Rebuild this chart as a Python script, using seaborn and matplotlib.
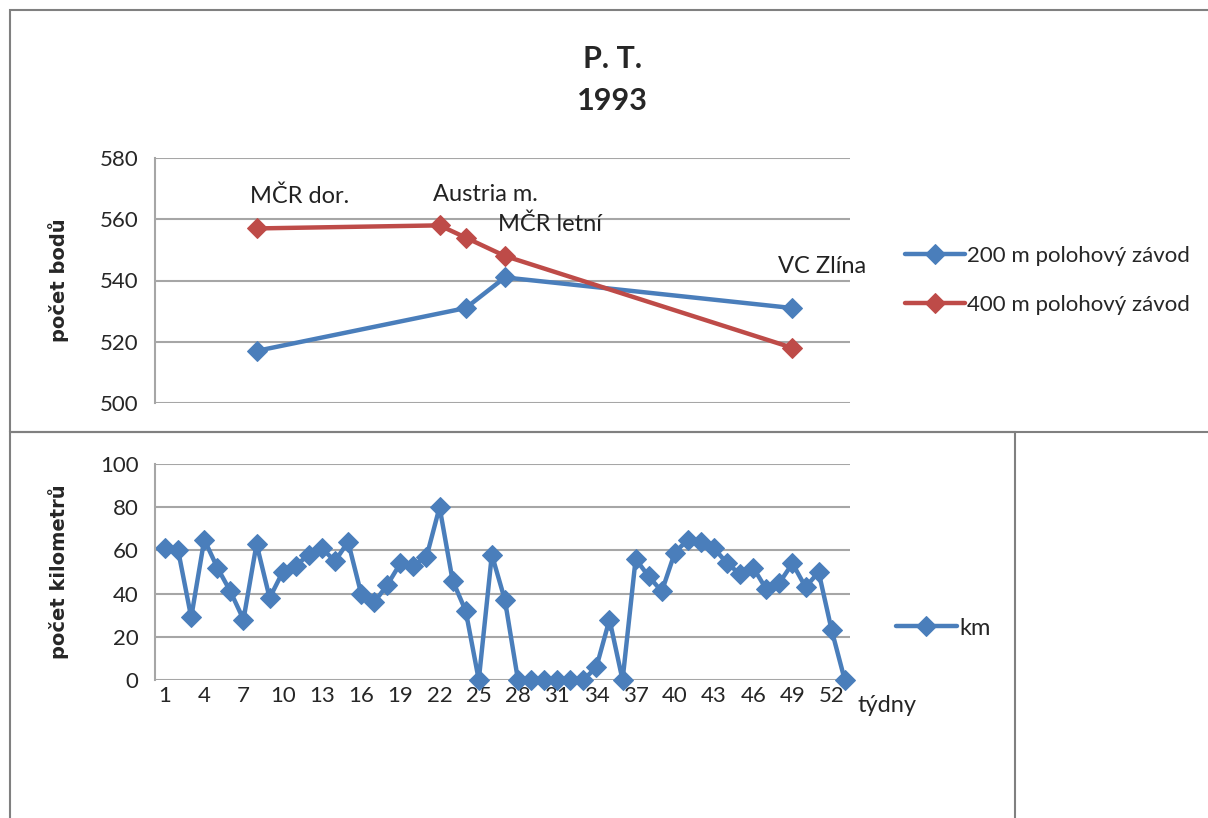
import matplotlib
matplotlib.use("Agg")
import matplotlib.pyplot as plt
from matplotlib.patches import Rectangle
import seaborn as sns
import pandas as pd
import numpy as np

# ---------------- data ----------------
race_weeks_200 = [8, 24, 27, 49]
points_200 = [517, 531, 541, 531]
race_weeks_400 = [8, 22, 24, 27, 49]
points_400 = [557, 558, 554, 548, 518]
race_labels = ["MČR dor.", "Austria m.", "MČR letní", "VC Zlína"]
race_label_weeks = [7.5, 21.5, 26.5, 47.9]
race_label_values = [564, 564.5, 555, 541]

weeks = list(range(1, 54))
km = [61, 60, 29, 65, 52, 41, 28, 63, 38, 50, 53, 58, 61, 55, 64, 40, 36, 44, 54, 53,
      57, 80, 46, 32, 0, 58, 37, 0, 0, 0, 0, 0, 0, 6, 28, 0, 56, 48, 41, 59,
      65, 64, 61, 54, 49, 52, 42, 45, 54, 43, 50, 23, 0]
week_ticks = list(range(1, 53, 3))

BLUE = "#4A7EBB"
RED = "#BE4B48"
GRID = "#A6A6A6"
FONT = ["Lato", "DejaVu Sans"]

sns.set_theme(style="white")
plt.rcParams["font.family"] = FONT

fig = plt.figure(figsize=(12.08, 8.18), dpi=100)

# panel frames
fig.patches.append(Rectangle((10 / 1208, 1 - 432 / 818), 1.2, 422 / 818,
                             transform=fig.transFigure, fill=False,
                             edgecolor="#808080", lw=1.5, zorder=0))
fig.patches.append(Rectangle((10 / 1208, -0.05), (1015 - 10) / 1208, 1 - 432 / 818 + 0.05,
                             transform=fig.transFigure, fill=False,
                             edgecolor="#808080", lw=1.5, zorder=0))

LINE_KW = dict(lw=3.2, marker="D", markersize=10, clip_on=False)

# ---------------- top chart ----------------
ax1 = fig.add_axes([155 / 1208, 1 - 403 / 818, 695 / 1208, 245 / 818])
df200 = pd.DataFrame({"week": race_weeks_200, "pts": points_200})
df400 = pd.DataFrame({"week": race_weeks_400, "pts": points_400})
sns.lineplot(data=df200, x="week", y="pts", ax=ax1, color=BLUE,
             markeredgecolor=BLUE, label="200 m polohový závod", **LINE_KW)
sns.lineplot(data=df400, x="week", y="pts", ax=ax1, color=RED,
             markeredgecolor=RED, label="400 m polohový závod", **LINE_KW)
for lab, w, v in zip(race_labels, race_label_weeks, race_label_values):
    ax1.text(w, v, lab, fontsize=17, ha="left", va="bottom", color="#222222")
ax1.set_ylim(500, 580)
ax1.set_yticks([500, 520, 540, 560, 580])
ax1.set_xlim(0.23, 53.4)
ax1.set_xticks([])
ax1.set_xlabel("")
ax1.set_ylabel("počet bodů", fontsize=14, fontweight="bold", labelpad=22,
               family="DejaVu Sans")
ax1.yaxis.grid(True, color=GRID, lw=1.5)
for s in ["top", "right", "bottom"]:
    ax1.spines[s].set_visible(False)
ax1.spines["left"].set_color(GRID)
ax1.spines["left"].set_linewidth(1.5)
ax1.tick_params(axis="y", labelsize=16, length=0, pad=12)
ax1.legend(loc="center left", bbox_to_anchor=(1.05, 0.50), frameon=False,
           fontsize=16, handlelength=2.7, handletextpad=0.1, labelspacing=1.3)
fig.text(0.507, 1 - 59 / 818, "P. T.", ha="center", va="center",
         fontsize=22, fontweight="bold")
fig.text(0.507, 1 - 101 / 818, "1993", ha="center", va="center",
         fontsize=22, fontweight="bold")

# ---------------- bottom chart ----------------
ax2 = fig.add_axes([155 / 1208, 1 - 680 / 818, 695 / 1208, 216 / 818])
dfkm = pd.DataFrame({"week": weeks, "km": km})
sns.lineplot(data=dfkm, x="week", y="km", ax=ax2, color=BLUE,
             markeredgecolor=BLUE, label="km", **LINE_KW)
ax2.set_ylim(0, 100)
ax2.set_yticks([0, 20, 40, 60, 80, 100])
ax2.set_xlim(0.23, 53.4)
ax2.set_xticks(week_ticks)
ax2.set_xticklabels([str(w) for w in week_ticks])
ax2.set_xlabel("")
ax2.set_ylabel("počet kilometrů", fontsize=14, fontweight="bold", labelpad=22,
               family="DejaVu Sans")
ax2.yaxis.grid(True, color=GRID, lw=1.5)
for s in ["top", "right", "bottom"]:
    ax2.spines[s].set_visible(False)
ax2.spines["left"].set_color(GRID)
ax2.spines["left"].set_linewidth(1.5)
ax2.tick_params(axis="y", labelsize=16, length=0, pad=12)
ax2.tick_params(axis="x", labelsize=16, length=0, pad=4)
ax2.legend(loc="center left", bbox_to_anchor=(1.035, 0.24), frameon=False,
           fontsize=17, handlelength=2.6, handletextpad=0.1)
fig.text(858 / 1208, 1 - 705 / 818, "týdny", ha="left", va="center", fontsize=17)

fig.savefig("out.png", dpi=100, facecolor="white")
